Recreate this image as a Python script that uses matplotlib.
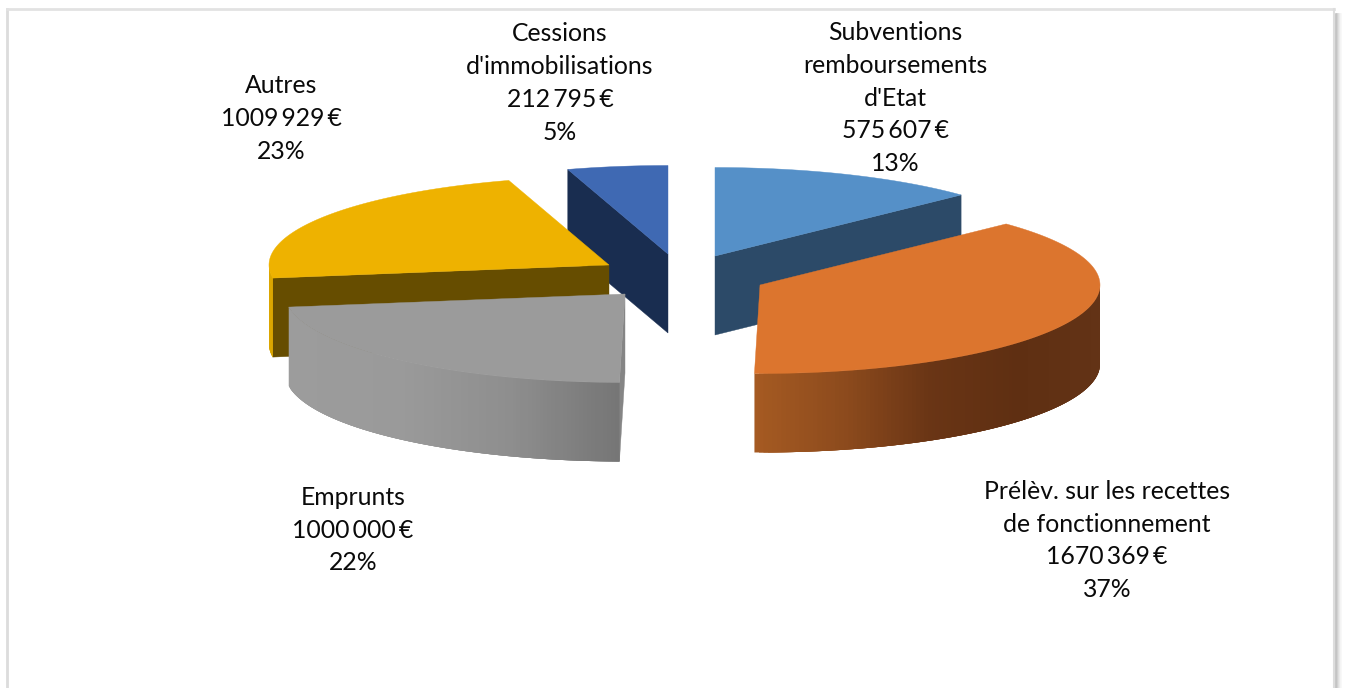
#!/usr/bin/python3

import numpy as np
from matplotlib import pyplot as plt
from matplotlib.colors import to_rgb

# clockwise from 12 o'clock
names = ["Subventions\nremboursements\nd'Etat",
         "Prélèv. sur les recettes\nde fonctionnement",
         "Emprunts",
         "Autres",
         "Cessions\nd'immobilisations"]
values = [575607, 1670369, 1000000, 1009929, 212795]

centers = [(715, 256), (760, 285), (625, 294), (609, 265), (668, 254)]
top_colors = ["#5590c8", "#dc752e", "#9b9b9b", "#eeb200", "#3f69b3"]
cut_colors = ["#2c4a68", "#a05520", "#858585", "#664d00", "#192d50"]
# wall colour from left to right of the slice
wall_colors = [["#2c4a68", "#2c4a68"],
               ["#a55a22", "#8d4b1d", "#6a3515", "#5f2f12", "#633316"],
               ["#9c9c9c", "#9a9a9a", "#8e8e8e", "#757575"],
               ["#dba600", "#dba600"],
               ["#192d50", "#192d50"]]
label_pos = [(895, 98), (1107, 540.5), (353, 530), (281, 118.5), (560, 83)]
cut_faces = {0: 1, 2: 0, 3: 0, 4: 0}  # slice: which side of it shows its cut

RX, RY, DEPTH = 340, 88.5, 79


def rim(center, angles):
    return center[0] + RX * np.sin(angles), center[1] - RY * np.cos(angles)


def mix(stops, t):
    stops = np.array([to_rgb(c) for c in stops])
    pos = np.linspace(0, 1, len(stops))
    return [np.interp(t, pos, stops[:, i]) for i in range(3)]


def money(v):
    s = str(v)
    return s[:-3] + "\u2009" + s[-3:] + "\u2009€"


fig = plt.figure(figsize=(13.47, 6.88), dpi=100)
ax = fig.add_axes([0, 0, 1, 1])
ax.set_xlim(0, 1347)
ax.set_ylim(688, 0)
ax.axis("off")

# frame and drop shadow
ax.plot([7, 7], [9, 688], color="#dcdcdc", lw=2)
ax.plot([7, 1334], [9, 9], color="#e2e2e2", lw=2)
ax.plot([1334, 1334], [9, 688], color="#dddddd", lw=1.5)
for i, grey in enumerate(["#b8b8b8", "#c4c4c4", "#d2d2d2", "#e0e0e0", "#ececec", "#f6f6f6"]):
    ax.plot([1336 + i, 1336 + i], [14, 688], color=grey, lw=1.1)

total = sum(values)
edges = 2 * np.pi * np.cumsum([0] + values) / total


def draw_slice(k):
    a0, a1 = edges[k], edges[k + 1]
    c = centers[k]

    if k in cut_faces:
        a = (a0, a1)[cut_faces[k]]
        rx, ry = rim(c, np.array([a]))
        ax.fill([c[0], rx[0], rx[0], c[0]],
                [c[1], ry[0], ry[0] + DEPTH, c[1] + DEPTH],
                color=cut_colors[k], lw=0.3)

    # outer wall, only the part turned to the viewer. Each strip runs under
    # the next one so no seams show.
    if k in (1, 2, 3):
        lo, hi = max(a0, np.pi / 2), min(a1, 3 * np.pi / 2)
        steps = np.linspace(hi, lo, 120)
        xs = rim(c, steps)[0]
        for j in range(len(steps) - 1):
            seg = np.linspace(steps[j], lo if j < 1 else steps[min(j + 3, len(steps) - 1)], 30 if j < 1 else 4)
            x, y = rim(c, seg)
            t = (xs[j] - xs.min()) / (xs.max() - xs.min())
            ax.fill(np.r_[x, x[::-1]], np.r_[y, y[::-1] + DEPTH], color=mix(wall_colors[k], t), lw=0)

    # top surface
    arc = np.linspace(a0, a1, 120)
    x, y = rim(c, arc)
    ax.fill(np.r_[c[0], x], np.r_[c[1], y], color=top_colors[k], lw=0.3)


for k in [4, 3, 0, 2, 1]:
    draw_slice(k)

for k, name in enumerate(names):
    pct = round(100 * values[k] / total)
    ax.text(label_pos[k][0], label_pos[k][1], f"{name}\n{money(values[k])}\n{pct}%",
            ha="center", va="center", ma="center", color="#0a0a0a",
            fontsize=17.8, family="Lato", linespacing=1.51)

fig.savefig("out.png", dpi=100)
